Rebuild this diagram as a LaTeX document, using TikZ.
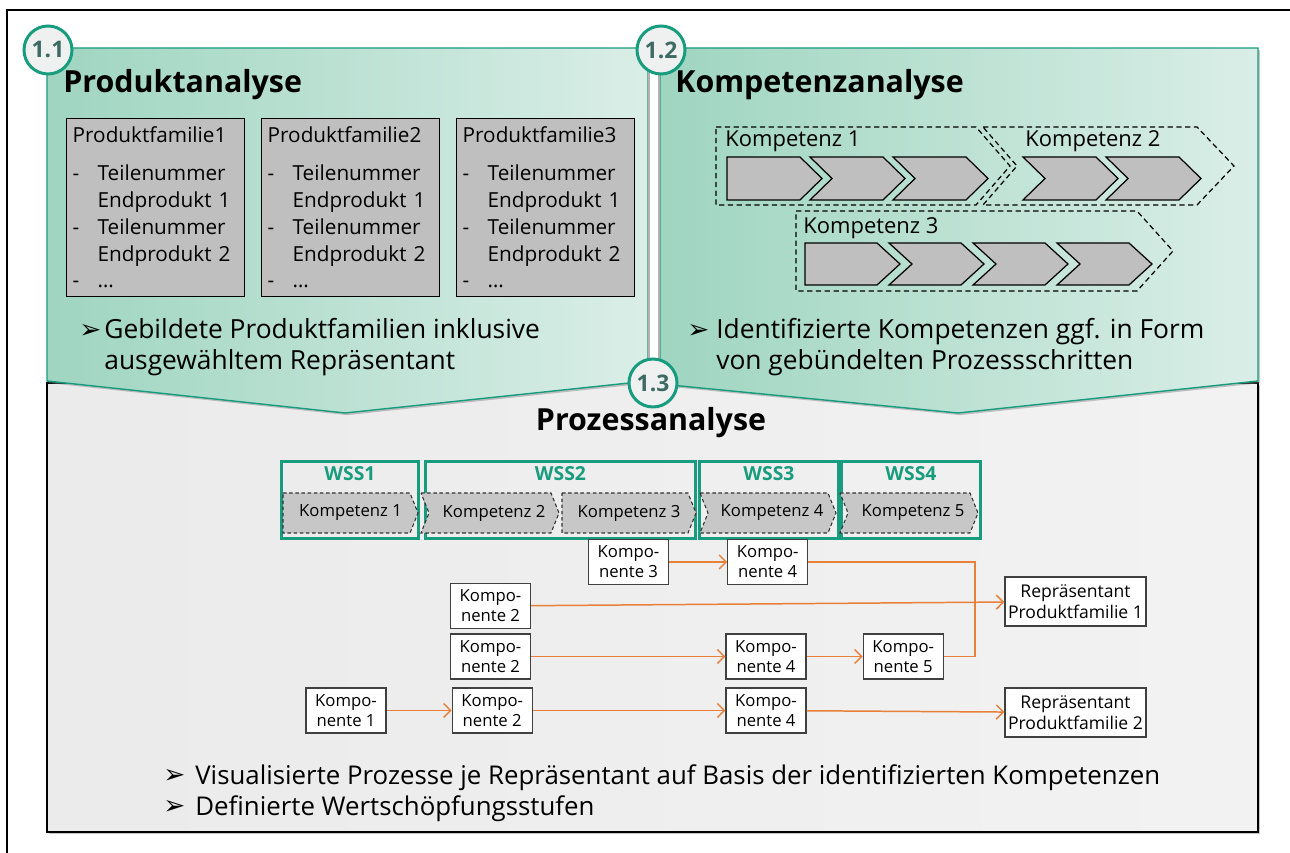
\documentclass[tikz,border=0pt]{standalone}
\usepackage{fontspec}
\setmainfont{Open Sans}
\newfontfamily\symfont{DejaVu Sans}
\usetikzlibrary{positioning,arrows.meta,shadows}

\definecolor{fhgruen}{HTML}{179C7D}
\definecolor{gruenlinks}{HTML}{9FD5C1}
\definecolor{gruenrechts}{HTML}{DAEEE7}
\definecolor{kreisfill}{HTML}{EEF1F0}
\definecolor{kreisschrift}{HTML}{3D6A62}
\definecolor{stufengrau}{HTML}{BFBFBF}
\definecolor{fluss}{HTML}{E8803A}

\newcommand{\pfeilchen}{➢}
\newcommand{\listpunkt}[1]{\makebox[5mm][l]{-}#1}
\newcommand{\einzug}[1]{\hspace*{5mm}#1}

% chevron: width, height, tip depth, notch (0/1), text
\tikzset{
  pics/chevron/.style n args={5}{code={
    \path[pic actions] (0,0) -- (#1-#3,0) -- (#1,#2/2) -- (#1-#3,#2) -- (0,#2) -- (#4*#3,#2/2) -- cycle;
    \node[inner sep=0] (-text) at ({(#1+#4*#3)/2},#2/2) {#5};
  }}
}

\begin{document}
\begin{tikzpicture}[x=0.2mm, y=-0.2mm, >={Straight Barb[length=4pt,width=8pt]}]
  \tikzstyle{rahmen}=[draw=black, line width=1.1pt]
  \tikzstyle{panel}=[draw=fhgruen, line width=0.8pt, left color=gruenlinks, right color=gruenrechts,
                     drop shadow={shadow xshift=1.2pt, shadow yshift=-1.2pt, opacity=.45}]
  \tikzstyle{grundpanel}=[draw=black, line width=0.9pt, left color=black!8, right color=black!5,
                     drop shadow={shadow xshift=1.2pt, shadow yshift=-1.2pt, opacity=.45}]
  \tikzstyle{nummer}=[circle, draw=fhgruen, line width=1.7pt, fill=kreisfill, minimum size=9.6mm,
                      inner sep=0, text=kreisschrift, font=\fontsize{13}{15}\selectfont\bfseries]
  \tikzstyle{titel}=[anchor=base west, inner sep=0, font=\fontsize{17.3}{20}\selectfont\bfseries]
  \tikzstyle{familie}=[draw=black, fill=stufengrau, line width=0.8pt, anchor=north west,
                       minimum height=35.6mm, text width=33.2mm, inner sep=1.2mm, align=left,
                       font=\fontsize{11.8}{15.3}\selectfont]
  \tikzstyle{punkt}=[anchor=west, inner sep=0, align=left, font=\fontsize{15}{17.6}\selectfont]
  \tikzstyle{aufz}=[anchor=west, inner sep=0, font=\symfont\fontsize{15}{16}\selectfont]
  \tikzstyle{kgrenze}=[draw=black, line width=0.7pt, dash pattern=on 3pt off 2pt]
  \tikzstyle{klabel}=[anchor=west, inner sep=0, font=\fontsize{12.5}{15}\selectfont]
  \tikzstyle{stufe}=[draw=black, line width=0.7pt, fill=stufengrau]
  \tikzstyle{wss}=[draw=fhgruen, line width=1.7pt, anchor=north west, minimum height=15.4mm, inner sep=0]
  \tikzstyle{wsslabel}=[inner sep=0, text=fhgruen, font=\fontsize{11}{13}\selectfont\bfseries]
  \tikzstyle{wstufe}=[draw=black!80, line width=0.6pt, dash pattern=on 2pt off 1.5pt, fill=black!22]
  \tikzstyle{komp}=[draw=black!75, fill=white, line width=0.7pt, minimum width=16mm, minimum height=9mm,
                    align=center, inner sep=0, font=\fontsize{9.5}{11.5}\selectfont]
  \tikzstyle{vertreter}=[komp, minimum width=28.2mm, minimum height=9.8mm, font=\fontsize{10}{12}\selectfont]
  \tikzstyle{flusspfeil}=[draw=fluss, line width=0.85pt, ->]
  \tikzstyle{flusslinie}=[draw=fluss, line width=0.85pt]

  \useasboundingbox (0,0) rectangle (1290,853);
  \draw[rahmen] (7,853) -- (7,10) -- (1290,10);

  % Prozessanalyse (behind the two upper panels)
  \path[grundpanel] (47,383) rectangle (1258,832);

  % upper panels
  \path[panel] (47,48) -- (648,48) -- (648,381) -- (345,413) -- (47,381) -- cycle;
  \path[panel] (660,48) -- (1258,48) -- (1258,381) -- (958,413) -- (660,384) -- cycle;
  \fill[white] (648,47) rectangle (660,384);
  \draw[black!30, line width=.6pt] (649,48) -- (649,384) (659,48) -- (659,384);

  \node[nummer] (n11) at (48,50)  {1.1};
  \node[nummer] (n12) at (661,50) {1.2};
  \node[nummer] (n13) at (653,383) {1.3};

  \node[titel] (t11) at (63,93)  {Produktanalyse};
  \node[titel] (t12) at (675,93) {Kompetenzanalyse};
  \node[titel, anchor=base] (t13) at (651,431) {Prozessanalyse};

  % Produktfamilien
  \node[familie] (pf1) at (66,118)  {Produktfamilie1\\[6pt]\listpunkt{Teilenummer}\\\einzug{Endprodukt 1}\\\listpunkt{Teilenummer}\\\einzug{Endprodukt 2}\\\listpunkt{…}};
  \node[familie] (pf2) at (261,118) {Produktfamilie2\\[6pt]\listpunkt{Teilenummer}\\\einzug{Endprodukt 1}\\\listpunkt{Teilenummer}\\\einzug{Endprodukt 2}\\\listpunkt{…}};
  \node[familie] (pf3) at (456,118) {Produktfamilie3\\[6pt]\listpunkt{Teilenummer}\\\einzug{Endprodukt 1}\\\listpunkt{Teilenummer}\\\einzug{Endprodukt 2}\\\listpunkt{…}};

  \node[aufz]  (b11) at (79,331)  {\pfeilchen};
  \node[punkt] (e11) at (104,347) {Gebildete Produktfamilien inklusive\\ausgewähltem Repräsentant};

  % Kompetenzen
  \path[kgrenze] (716,127) -- (976,127) -- (1010,166) -- (976,205) -- (716,205) -- cycle;
  \path[kgrenze] (983,127) -- (1197,127) -- (1234,166) -- (1197,205) -- (983,205) -- (1017,166) -- cycle;
  \path[kgrenze] (796,211) -- (1137,211) -- (1173,251) -- (1137,291) -- (796,291) -- cycle;
  \node[klabel] (k1) at (725,141)  {Kompetenz 1};
  \node[klabel] (k2) at (1025,141) {Kompetenz 2};
  \node[klabel] (k3) at (803,228)  {Kompetenz 3};

  \pic[stufe] (s11) at (727,157)  {chevron={95}{43}{22}{0}{}};
  \pic[stufe] (s12) at (810,157)  {chevron={95}{43}{22}{1}{}};
  \pic[stufe] (s13) at (893,157)  {chevron={95}{43}{22}{1}{}};
  \pic[stufe] (s21) at (1023,157) {chevron={95}{43}{22}{1}{}};
  \pic[stufe] (s22) at (1106,157) {chevron={95}{43}{22}{1}{}};
  \pic[stufe] (s31) at (805,243)  {chevron={95}{42}{23}{0}{}};
  \pic[stufe] (s32) at (889,243)  {chevron={95}{42}{23}{1}{}};
  \pic[stufe] (s33) at (973,243)  {chevron={95}{42}{23}{1}{}};
  \pic[stufe] (s34) at (1057,243) {chevron={95}{42}{23}{1}{}};

  \node[aufz]  (b12) at (687,331) {\pfeilchen};
  \node[punkt] (e12) at (716,347) {Identifizierte Kompetenzen ggf. in Form\\von gebündelten Prozessschritten};

  % Wertschoepfungsstufen
  \node[wss, minimum width=27.4mm] (w1) at (280,460) {};
  \node[wss, minimum width=54mm]   (w2) at (424,460) {};
  \node[wss, minimum width=27.8mm] (w3) at (698,460) {};
  \node[wss, minimum width=27.8mm] (w4) at (840,460) {};
  \node[wsslabel, below=1.3mm of w1.north] (w1l) {WSS1};
  \node[wsslabel, below=1.3mm of w2.north] (w2l) {WSS2};
  \node[wsslabel, below=1.3mm of w3.north] (w3l) {WSS3};
  \node[wsslabel, below=1.3mm of w4.north] (w4l) {WSS4};

  \begin{scope}[font=\fontsize{9.5}{11}\selectfont]
    \pic[wstufe] (ks1) at (283,493) {chevron={135}{40}{8}{0}{Kompetenz 1}};
    \pic[wstufe] (ks2) at (421,493) {chevron={138}{40}{8}{1}{Kompetenz 2}};
    \pic[wstufe] (ks3) at (562,493) {chevron={134}{40}{8}{0}{Kompetenz 3}};
    \pic[wstufe] (ks4) at (700,493) {chevron={136}{40}{8}{1}{Kompetenz 4}};
    \pic[wstufe] (ks5) at (840,493) {chevron={138}{40}{8}{1}{Kompetenz 5}};
  \end{scope}

  % Komponenten
  \node[komp] (kt3)  at (628.5,562) {Kompo-\\nente 3};
  \node[komp, right=11.6mm of kt3] (kt4a) {Kompo-\\nente 4};
  \node[komp] (kt2a) at (490.5,606) {Kompo-\\nente 2};
  \node[komp] (kt2b) at (490.5,656.5) {Kompo-\\nente 2};
  \node[komp] (kt4b) at (766,656.5) {Kompo-\\nente 4};
  \node[komp, right=11.2mm of kt4b] (kt5) {Kompo-\\nente 5};
  \node[komp] (kt1)  at (346,710.5) {Kompo-\\nente 1};
  \node[komp, right=13mm of kt1] (kt2c) {Kompo-\\nente 2};
  \node[komp] (kt4c) at (766,710.5) {Kompo-\\nente 4};
  \node[vertreter] (rep1) at (1075.5,601.5) {Repräsentant\\Produktfamilie 1};
  \node[vertreter] (rep2) at (1075.5,712.5) {Repräsentant\\Produktfamilie 2};

  \coordinate (sammel) at (975,562);
  \draw[flusspfeil] (kt3) -- (kt4a);
  \draw[flusslinie] (kt4a) -- (sammel) |- (kt5);
  \draw[flusspfeil] (kt2a) -- (rep1);
  \draw[flusspfeil] (kt2b) -- (kt4b);
  \draw[flusspfeil] (kt4b) -- (kt5);
  \draw[flusspfeil] (kt1) -- (kt2c);
  \draw[flusspfeil] (kt2c) -- (kt4c);
  \draw[flusspfeil] (kt4c) -- (rep2);

  \node[aufz]  (b31) at (163,776) {\pfeilchen};
  \node[punkt, anchor=base west, font=\fontsize{14.7}{17}\selectfont] (e31) at (195,784) {Visualisierte Prozesse je Repräsentant auf Basis der identifizierten Kompetenzen};
  \node[aufz]  (b32) at (163,807) {\pfeilchen};
  \node[punkt, anchor=base west, font=\fontsize{14.7}{17}\selectfont] (e32) at (195,815) {Definierte Wertschöpfungsstufen};
\end{tikzpicture}
\end{document}
